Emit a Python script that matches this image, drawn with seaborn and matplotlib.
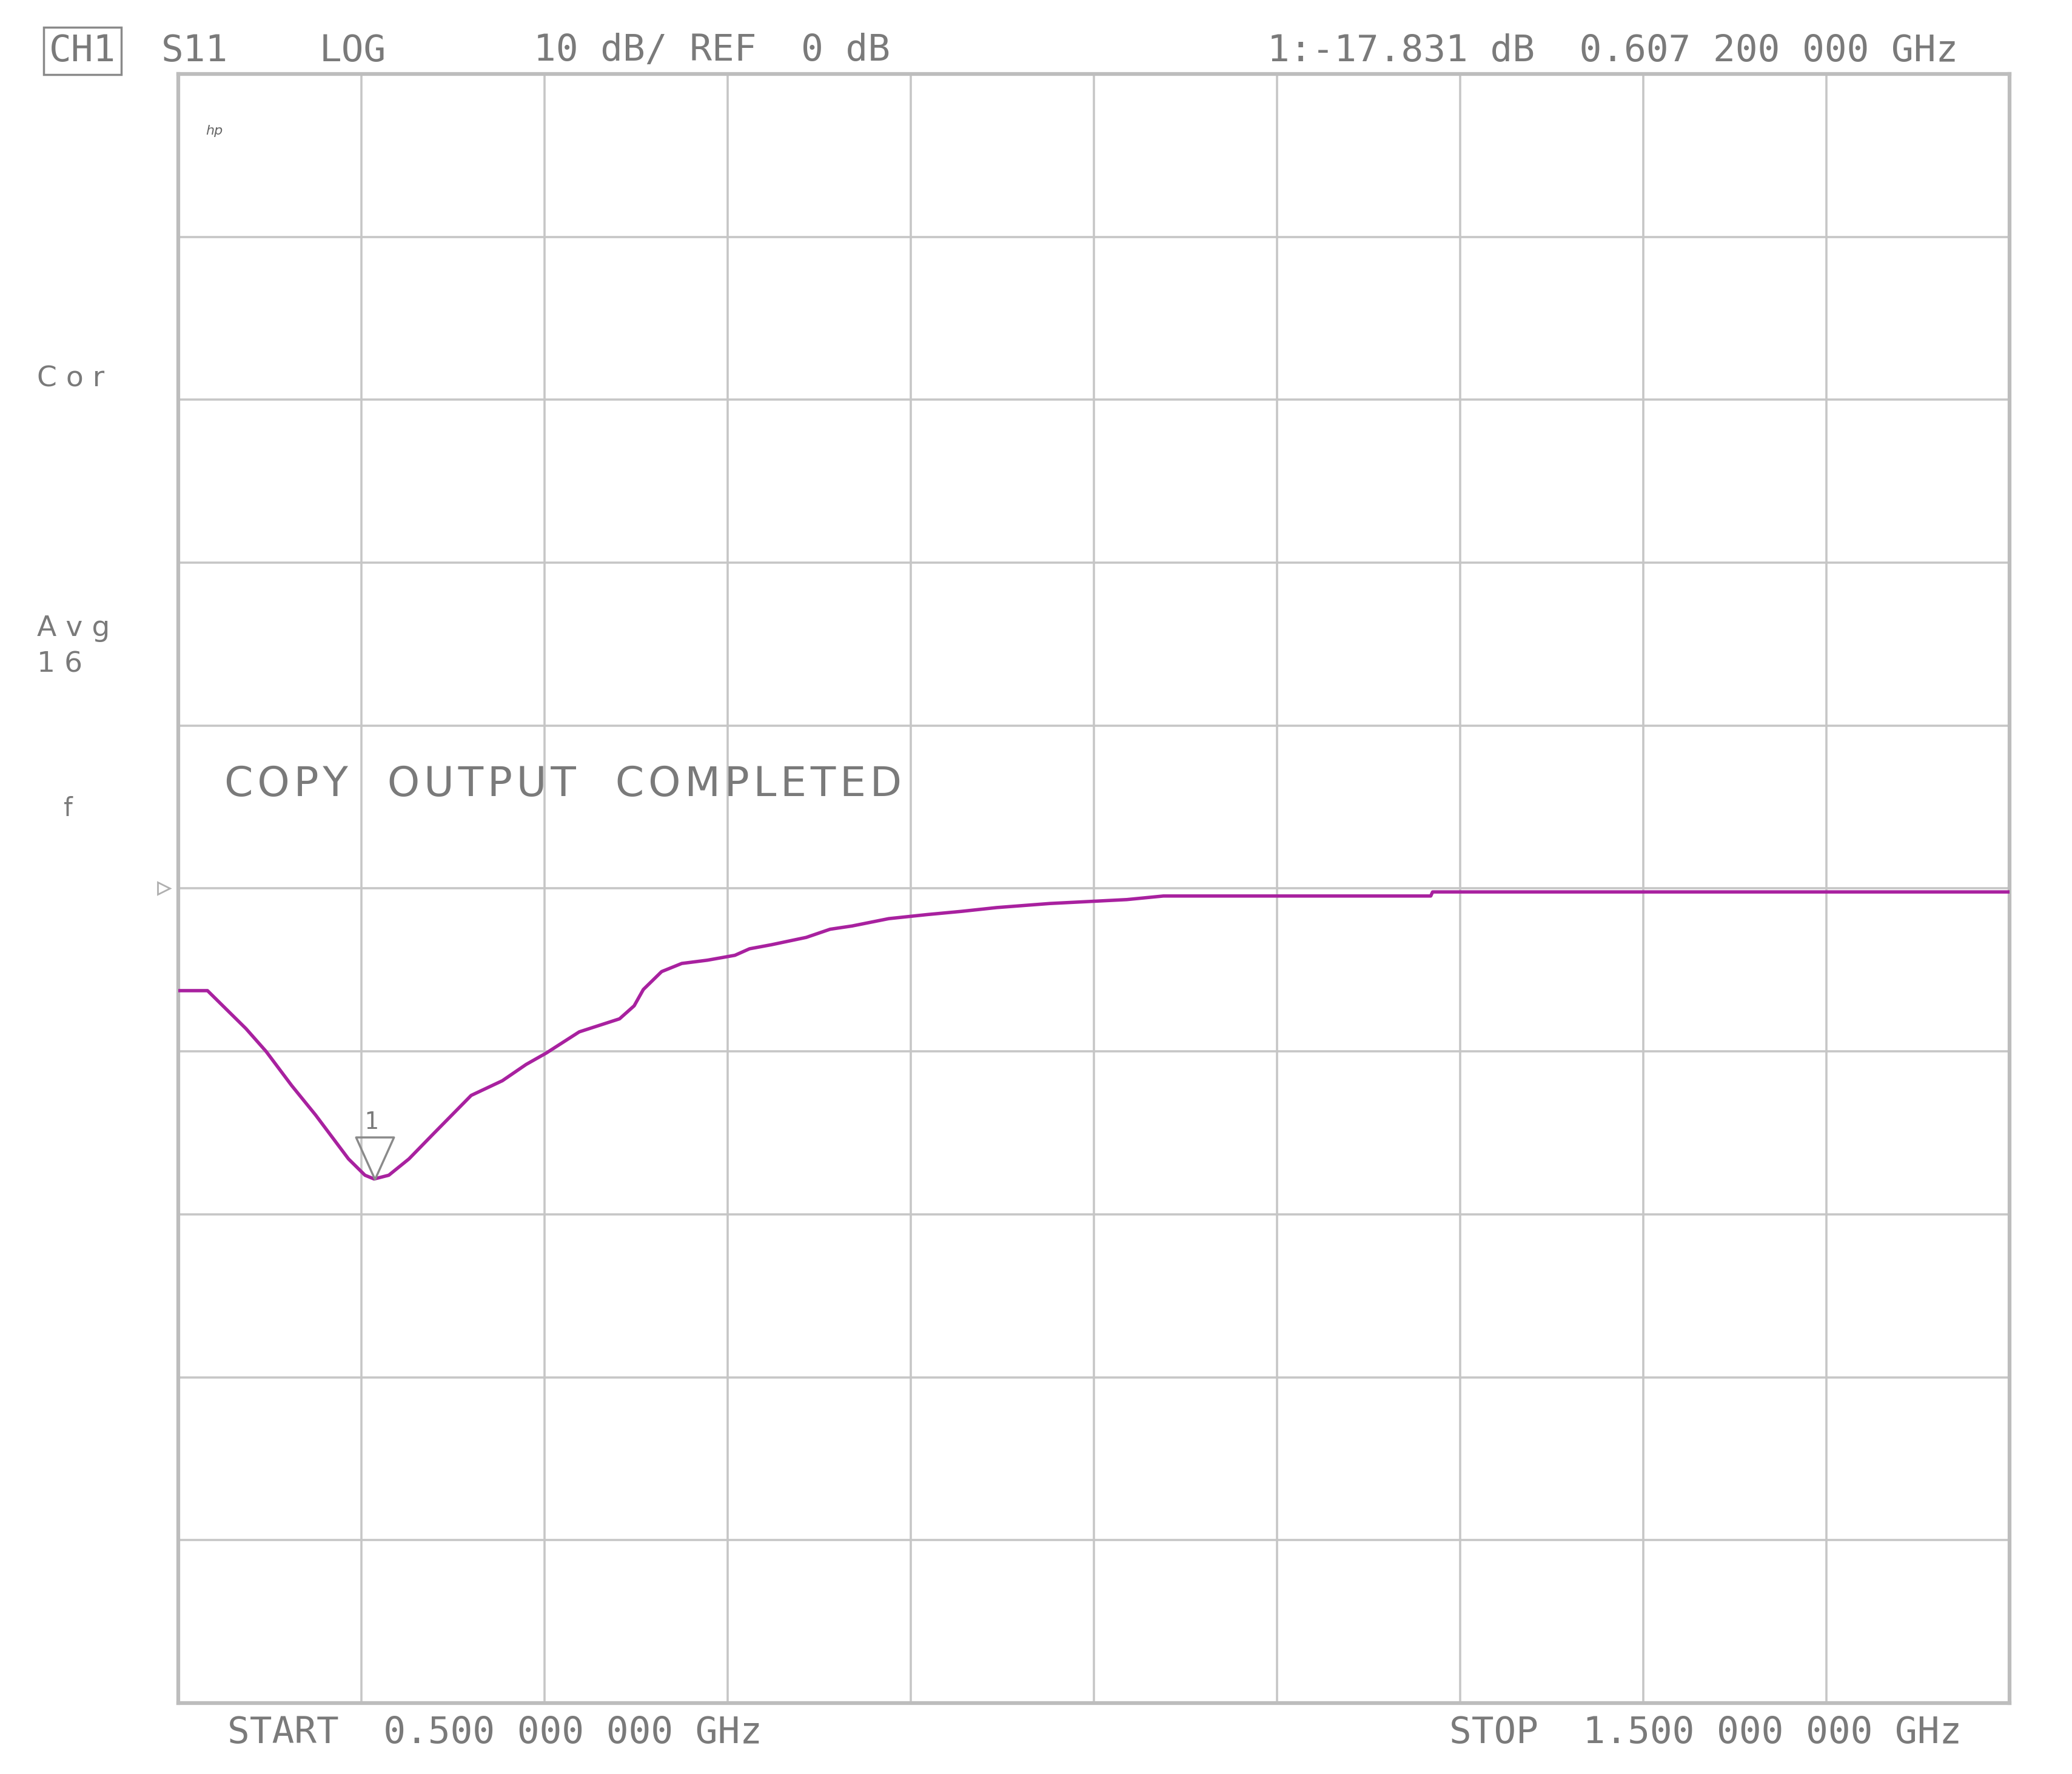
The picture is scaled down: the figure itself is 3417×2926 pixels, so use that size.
import numpy as np
import pandas as pd
import matplotlib
matplotlib.use("Agg")
import matplotlib.pyplot as plt
from matplotlib.path import Path
import seaborn as sns

# S11 trace (GHz, dB)
freq_ghz = [0.500, 0.516, 0.537, 0.548, 0.562, 0.575, 0.593, 0.602, 0.607, 0.615,
            0.626, 0.639, 0.660, 0.677, 0.690, 0.701, 0.719, 0.741, 0.749, 0.754,
            0.764, 0.775, 0.789, 0.804, 0.812, 0.824, 0.843, 0.856, 0.868, 0.888,
            0.909, 0.928, 0.947, 0.976, 1.018, 1.038, 1.184, 1.185, 1.500]
s11_db = [-6.27, -6.27, -8.6, -10.0, -12.1, -13.9, -16.6, -17.6, -17.83, -17.6,
          -16.6, -15.1, -12.7, -11.8, -10.8, -10.1, -8.8, -8.0, -7.2, -6.2,
          -5.1, -4.6, -4.4, -4.1, -3.7, -3.45, -3.0, -2.5, -2.3, -1.85,
          -1.6, -1.4, -1.17, -0.92, -0.68, -0.46, -0.46, -0.21, -0.21]

marker_freq = 0.6072
marker_db = -17.831
ref_db = 0
db_per_div = 10
start_ghz, stop_ghz = 0.5, 1.5

header_left = ["S11", "LOG", "10 dB/ REF  0 dB"]
header_right = "1:-17.831 dB  0.607 200 000 GHz"
start_label = "START  0.500 000 000 GHz"
stop_label = "STOP  1.500 000 000 GHz"
status_msg = "COPY  OUTPUT  COMPLETED"

df = pd.DataFrame({"freq": freq_ghz, "s11": s11_db})

sns.set_theme(style="white")
plt.rcParams["font.family"] = ["DejaVu Sans"]

mono = "DejaVu Sans Mono"
txt_col = "#7a7a7a"
grid_col = "#c6c6c6"
trace_col = "#a8219f"
W, H = 3417, 2926


def fx(px):
    return px / W


def fy(py):
    return 1 - py / H


def spaced(s, gap="\u200a"):
    # instrument style letter spacing
    return "   ".join(gap.join(w) for w in s.split())


fig = plt.figure(figsize=(W / 100, H / 100), dpi=100)
ax = fig.add_axes([0.0860, 0.0400, 0.8838, 0.9183])

sns.lineplot(data=df, x="freq", y="s11", ax=ax, color=trace_col, linewidth=4.0,
             sort=False, estimator=None, zorder=3)

ax.set_xlim(start_ghz, stop_ghz)
ax.set_ylim(ref_db - 5 * db_per_div, ref_db + 5 * db_per_div)
ax.set_xticks(np.linspace(start_ghz, stop_ghz, 11))
ax.set_yticks(np.arange(ref_db - 5 * db_per_div, ref_db + 5 * db_per_div + 1, db_per_div))
ax.set_xticklabels([])
ax.set_yticklabels([])
ax.tick_params(length=0)
ax.set_xlabel("")
ax.set_ylabel("")
ax.grid(True, color=grid_col, linewidth=2.6)
for s in ax.spines.values():
    s.set_color("#bdbdbd")
    s.set_linewidth(4.5)

# marker 1: down triangle with its tip on the trace point
tri = Path([(-0.45, 1.0), (0.45, 1.0), (0.0, 0.0), (-0.45, 1.0)],
           [Path.MOVETO, Path.LINETO, Path.LINETO, Path.CLOSEPOLY])
ax.plot([marker_freq], [marker_db], marker=tri, markersize=100, markerfacecolor="none",
        markeredgecolor="#8a8a8a", markeredgewidth=2.5, linestyle="none", zorder=4)
ax.annotate("1", (marker_freq, marker_db), xytext=(-4, 54), textcoords="offset points",
            ha="center", va="bottom", fontsize=28, family=mono, color=txt_col)

# reference position arrow on the left edge
ax.plot([-0.008], [ref_db], marker=">", markersize=15, fillstyle="none",
        markeredgecolor="#b0b0b0", markeredgewidth=2, linestyle="none",
        transform=ax.get_yaxis_transform(), clip_on=False)

# header line
fig.text(fx(81), fy(84), "CH1", ha="left", va="center", fontsize=44, family=mono,
         color=txt_col, bbox=dict(boxstyle="square,pad=0.15", fc="white", ec="#8a8a8a", lw=2.5))
for label, x in zip(header_left, [266, 527, 880]):
    fig.text(fx(x), fy(84), label, ha="left", va="center", fontsize=44, family=mono,
             color=txt_col)
fig.text(fx(2090), fy(84), header_right, ha="left", va="center", fontsize=44, family=mono,
         color=txt_col)

# left annotation column
fig.text(fx(61), fy(625), "C o r", ha="left", va="center", fontsize=34, color=txt_col)
fig.text(fx(61), fy(1037), "A v g", ha="left", va="center", fontsize=34, color=txt_col)
fig.text(fx(61), fy(1096), "1 6", ha="left", va="center", fontsize=34, color=txt_col)
fig.text(fx(112), fy(1334), "f", ha="center", va="center", fontsize=30, color=txt_col)
fig.text(fx(353), fy(216), "hp", ha="center", va="center", fontsize=16,
         style="italic", color="#666666")

fig.text(fx(370), fy(1294), spaced(status_msg), ha="left", va="center",
         fontsize=49, color=txt_col)

fig.text(fx(375), fy(2859), start_label, ha="left", va="center", fontsize=44, family=mono,
         color=txt_col)
fig.text(fx(2390), fy(2859), stop_label, ha="left", va="center", fontsize=44, family=mono,
         color=txt_col)

fig.savefig("out.png", dpi=100, facecolor="white")
